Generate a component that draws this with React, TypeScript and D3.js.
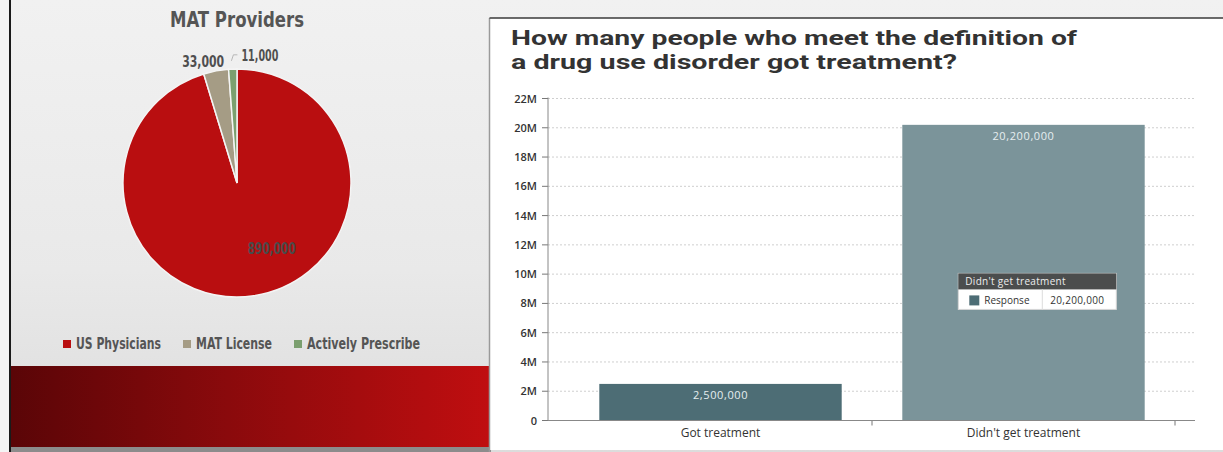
import React from 'react';
import * as d3 from 'd3';

// ---------- data ----------
const pieCategories = ['US Physicians', 'MAT License', 'Actively Prescribe'];
const pieValues = [890000, 33000, 11000];
const pieLabels = ['890,000', '33,000', '11,000'];
const pieColors = ['#b90e10', '#a59c85', '#7b9f6f'];
const pieTitle = 'MAT Providers';

const barTitleLines = ['How many people who meet the definition of', 'a drug use disorder got treatment?'];
const barCategories = ['Got treatment', "Didn't get treatment"];
const barValues = [2500000, 20200000];
const barLabels = ['2,500,000', '20,200,000'];
const barColors = ['#4d6d75', '#7b949a'];
const yTickValues = [0, 2e6, 4e6, 6e6, 8e6, 10e6, 12e6, 14e6, 16e6, 18e6, 20e6, 22e6];
const yTickLabels = ['0', '2M', '4M', '6M', '8M', '10M', '12M', '14M', '16M', '18M', '20M', '22M'];
const tooltipCategory = "Didn't get treatment";
const tooltipSeries = 'Response';
const tooltipValue = '20,200,000';

const W = 1223;
const H = 452;
const condensed = "'Liberation Sans Narrow', 'DejaVu Sans Condensed', 'Roboto Condensed', sans-serif";
const chartFont = "'Open Sans', 'Noto Sans', sans-serif";
const titleFont = "Roboto, 'Open Sans', sans-serif";

function PiePanel() {
  const cx = 237, cy = 183, r = 114;
  const arcs = d3.pie<number>().sort(null).value((d) => d)(pieValues);
  const arc = d3.arc<d3.PieArcDatum<number>>().innerRadius(0).outerRadius(r);
  const innerLabelArc = d3.arc<d3.PieArcDatum<number>>().innerRadius(r * 0.58).outerRadius(r * 0.58);
  const outerLabelArc = d3.arc<d3.PieArcDatum<number>>().innerRadius(r * 1.09).outerRadius(r * 1.09);
  const legendWidths = [85, 76, 113];
  const legendX: number[] = [];
  let lx = 63;
  legendWidths.forEach((w) => {
    legendX.push(lx);
    lx += 8 + 5 + w + 22;
  });
  return (
    <g>
      <text x={cx} y={27} textAnchor="middle" fontFamily={condensed} fontWeight={700}
        fontSize={22} fill="#555" textLength={134} lengthAdjust="spacingAndGlyphs">{pieTitle}</text>
      <g transform={`translate(${cx},${cy})`}>
        {arcs.map((a, i) => (
          <path key={i} d={arc(a) || ''} fill={pieColors[i]} stroke="#f4f4f4" strokeWidth={1.5} />
        ))}
        {arcs.map((a, i) => {
          if (i === 0) {
            const [x, y] = innerLabelArc.centroid(a);
            return (
              <text key={i} x={x + 25} y={y + 6} textAnchor="middle" fontFamily={condensed} fontWeight={700}
                fontSize={15} fill="#4a4a4a" textLength={48} lengthAdjust="spacingAndGlyphs">{pieLabels[i]}</text>
            );
          }
          const [x, y] = outerLabelArc.centroid(a);
          const right = i === 1;
          return (
            <g key={i}>
              {!right && (
                <polyline points={`${x - 1},${y + 2} ${x + 1},${y - 4} ${x + 5},${y - 4}`} fill="none" stroke="#a8a8a8" strokeWidth={0.8} />
              )}
              <text x={right ? x + 10 : x + 9} y={right ? y + 6 : y + 2} textAnchor={right ? 'end' : 'start'}
                fontFamily={condensed} fontWeight={700} fontSize={16} fill="#4f4f4f"
                textLength={right ? 42 : 37} lengthAdjust="spacingAndGlyphs">{pieLabels[i]}</text>
            </g>
          );
        })}
      </g>
      {pieCategories.map((c, i) => (
        <g key={c}>
          <rect x={legendX[i]} y={340} width={8} height={8} fill={pieColors[i]} />
          <text x={legendX[i] + 13} y={348.5} fontFamily={condensed} fontWeight={700} fontSize={16}
            fill="#555" textLength={legendWidths[i]} lengthAdjust="spacingAndGlyphs">{c}</text>
        </g>
      ))}
    </g>
  );
}

function BarPanel() {
  const y = d3.scaleLinear().domain([0, 22e6]).range([420.5, 98.5]);
  const x = d3.scaleBand<string>().domain(barCategories).range([569, 1175]).paddingInner(0.2).paddingOuter(0.1);
  const axisX0 = 548, axisX1 = 1195;
  const step = x.step();
  const tipX = (x(tooltipCategory) || 0) + 56;
  const tipY = y(10.05e6);
  return (
    <g>
      <text x={511} y={45} fontFamily={titleFont} fontWeight={700} fontSize={20} fill="#333"
        textLength={566} lengthAdjust="spacingAndGlyphs">{barTitleLines[0]}</text>
      <text x={511} y={69} fontFamily={titleFont} fontWeight={700} fontSize={20} fill="#333"
        textLength={446} lengthAdjust="spacingAndGlyphs">{barTitleLines[1]}</text>
      {yTickValues.map((v, i) => (
        <g key={v}>
          {v > 0 && (
            <line x1={axisX0} x2={axisX1} y1={y(v)} y2={y(v)} stroke="#cfcfcf" strokeWidth={1} strokeDasharray="2,2" />
          )}
          <line x1={axisX0 - 6} x2={axisX0} y1={y(v)} y2={y(v)} stroke="#777" strokeWidth={1} />
          <text x={537} y={y(v) + 4} textAnchor="end" fontFamily={chartFont} fontWeight={600} fontSize={11} fill="#333">{yTickLabels[i]}</text>
        </g>
      ))}
      {barCategories.map((c, i) => {
        const bx = x(c) || 0;
        return (
          <g key={c}>
            <rect x={bx} y={y(barValues[i])} width={x.bandwidth()} height={y(0) - y(barValues[i])} fill={barColors[i]} />
            <text x={bx + x.bandwidth() / 2} y={y(barValues[i]) + 15} textAnchor="middle" fontFamily={chartFont}
              fontSize={11} fill="#e6eef0" letterSpacing={0.6}>{barLabels[i]}</text>
            <text x={bx + x.bandwidth() / 2} y={437} textAnchor="middle" fontFamily={chartFont} fontSize={12} fill="#333">{c}</text>
            <line x1={bx + x.bandwidth() + (step - x.bandwidth()) / 2} x2={bx + x.bandwidth() + (step - x.bandwidth()) / 2}
              y1={y(0)} y2={y(0) + 5} stroke="#777" strokeWidth={1} />
          </g>
        );
      })}
      <line x1={axisX0} x2={axisX0} y1={y(22e6) - 1} y2={y(0)} stroke="#888" strokeWidth={1} />
      <line x1={axisX0} x2={axisX1} y1={y(0)} y2={y(0)} stroke="#888" strokeWidth={1} />
      {/* tooltip */}
      <g transform={`translate(${tipX},${tipY})`}>
        <rect x={0} y={0} width={158} height={36} fill="#fff" stroke="#d8d8d8" strokeWidth={1} />
        <rect x={0} y={0} width={158} height={16} fill="#4b4d4d" />
        <text x={7} y={12} fontFamily={chartFont} fontSize={10} fill="#eee" letterSpacing={0.3}>{tooltipCategory}</text>
        <rect x={11} y={22} width={10} height={10} fill={barColors[0]} />
        <text x={26} y={31} fontFamily={chartFont} fontSize={10} fill="#333">{tooltipSeries}</text>
        <line x1={84} x2={84} y1={16} y2={36} stroke="#ddd" strokeWidth={1} />
        <text x={92} y={31} fontFamily={chartFont} fontSize={10} fill="#333" letterSpacing={0.3}>{tooltipValue}</text>
      </g>
    </g>
  );
}

export default function App() {
  return (
    <svg width={W} height={H} viewBox={`0 0 ${W} ${H}`} style={{ position: 'absolute', left: 0, top: 0 }}>
      <defs>
        <linearGradient id="slideBg" x1="0" y1="0" x2="0" y2="1">
          <stop offset="0" stopColor="#f1f1f1" />
          <stop offset="0.6" stopColor="#e9e9e9" />
          <stop offset="1" stopColor="#dcdcdc" />
        </linearGradient>
        <linearGradient id="redBand" x1="0" y1="0" x2="1" y2="0">
          <stop offset="0" stopColor="#5a0507" />
          <stop offset="0.45" stopColor="#8a0a0c" />
          <stop offset="1" stopColor="#c00e10" />
        </linearGradient>
      </defs>
      <rect x={0} y={0} width={W} height={H} fill="url(#slideBg)" />
      <rect x={0} y={0} width={9} height={H} fill="#f4f4f4" />
      <rect x={9} y={0} width={2} height={H} fill="#1a1a1a" />
      <rect x={11} y={366} width={480} height={81} fill="url(#redBand)" />
      <rect x={11} y={447} width={480} height={5} fill="#8c8c8c" />
      <PiePanel />
      <rect x={489.5} y={18} width={W - 489.5} height={432} fill="#fff" />
      <line x1={489.5} x2={489.5} y1={18} y2={452} stroke="#9a9a9a" strokeWidth={1.5} />
      <line x1={489.5} x2={W} y1={18} y2={18} stroke="#3a3a3a" strokeWidth={1.5} />
      <BarPanel />
    </svg>
  );
}
